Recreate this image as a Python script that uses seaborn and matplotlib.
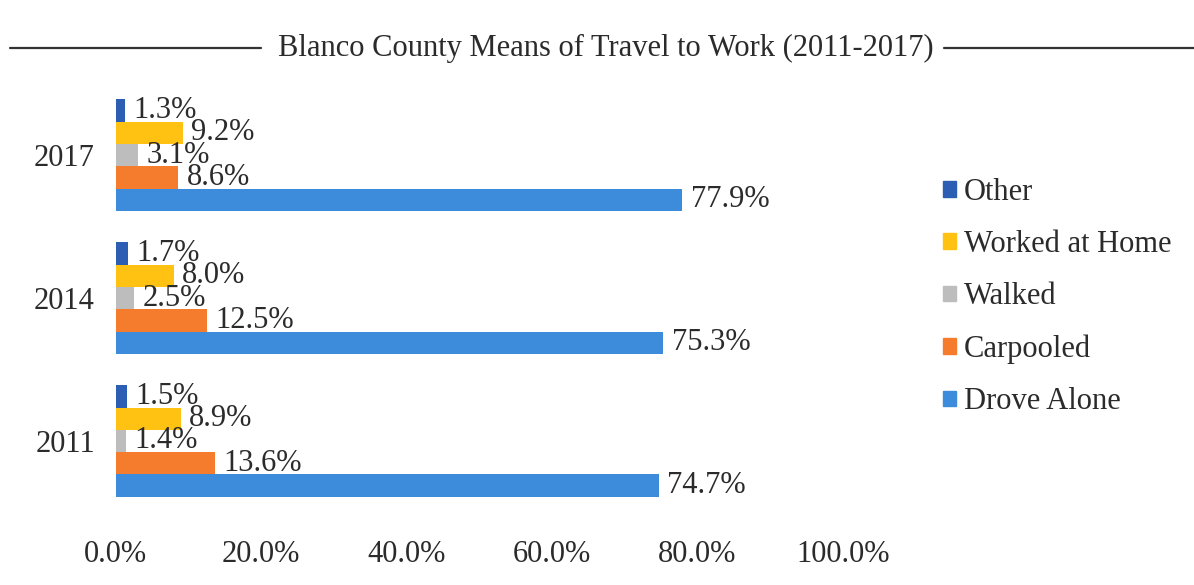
import matplotlib
matplotlib.use("Agg")
import matplotlib.pyplot as plt
import seaborn as sns
import pandas as pd
from matplotlib.lines import Line2D

# data
years = ["2017", "2014", "2011"]
modes = ["Other", "Worked at Home", "Walked", "Carpooled", "Drove Alone"]
other = [1.3, 1.7, 1.5]
worked_home = [9.2, 8.0, 8.9]
walked = [3.1, 2.5, 1.4]
carpooled = [8.6, 12.5, 13.6]
drove_alone = [77.9, 75.3, 74.7]
x_ticks = [0, 20, 40, 60, 80, 100]

colors = ["#2C5FB3", "#FFC112", "#BDBDBD", "#F57C2C", "#3D8BDB"]

rows = []
for m, vals in zip(modes, [other, worked_home, walked, carpooled, drove_alone]):
    for y, v in zip(years, vals):
        rows.append({"year": y, "mode": m, "pct": v})
df = pd.DataFrame(rows)

sns.set_style("white")
plt.rcParams["font.family"] = ["Liberation Serif", "DejaVu Serif"]
FS = 22
TXT = "#2b2b2b"

fig = plt.figure(figsize=(11.94, 5.85), dpi=100)
ax = fig.add_axes([0.097, 0.124, 0.609, 0.733])

sns.barplot(data=df, y="year", x="pct", hue="mode", order=years, hue_order=modes,
            palette=colors, orient="h", width=0.78, ax=ax, saturation=1,
            legend=False, linewidth=0)

for cont in ax.containers:
    ax.bar_label(cont, fmt="%.1f%%", padding=6, fontsize=FS, color=TXT)

ax.set_xlim(0, 100)
ax.set_ylim(2.5, -0.5)
ax.set_xticks(x_ticks)
ax.set_xticklabels([f"{t:.1f}%" for t in x_ticks], fontsize=FS, color=TXT)
ax.tick_params(axis="x", length=0, pad=20)
ax.tick_params(axis="y", length=0, pad=15, labelsize=FS, labelcolor=TXT)
ax.set_xlabel("")
ax.set_ylabel("")
for s in ax.spines.values():
    s.set_visible(False)

handles = [plt.Rectangle((0, 0), 1, 1, color=c) for c in colors]
fig.legend(handles, modes, loc="center left", bbox_to_anchor=(0.767, 0.492),
           frameon=False, fontsize=FS, handlelength=0.42, handleheight=0.42,
           handletextpad=0.25, labelspacing=0.76, labelcolor=TXT)

# title with rules on both sides
fig.text(0.507, 0.918, "Blanco County Means of Travel to Work (2011-2017)",
         ha="center", va="center", fontsize=FS, color=TXT)
fig.add_artist(Line2D([0.008, 0.219], [0.918, 0.918], color="#333333", lw=1.6))
fig.add_artist(Line2D([0.791, 1.0], [0.918, 0.918], color="#333333", lw=1.6))

fig.savefig("out.png", dpi=100, facecolor="white")
